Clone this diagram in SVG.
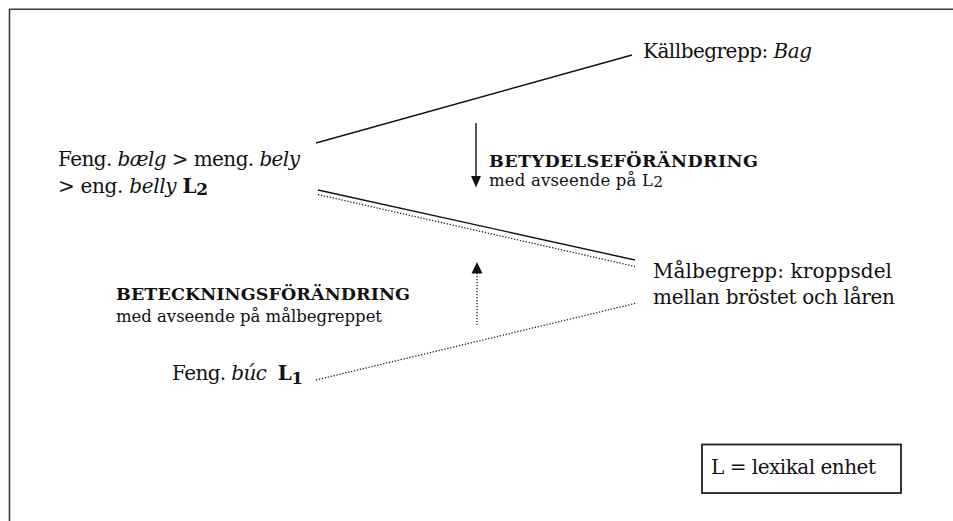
<svg xmlns="http://www.w3.org/2000/svg" width="953" height="521" viewBox="0 0 953 521">
  <style>
    .t { font-family: "DejaVu Serif", "Liberation Serif", serif; fill: #111; }
    .main { font-size: 20px; }
    .head { font-size: 17.5px; font-weight: bold; }
    .sub { font-size: 16.5px; }
    .it { font-style: italic; }
    .b { font-weight: bold; }
    .solid { stroke: #111; stroke-width: 1.4; fill: none; }
    .dotted { stroke: #222; stroke-width: 1.3; stroke-dasharray: 1.3 1.7; fill: none; }
    .head-fill { fill: #111; }
  </style>

  <rect width="953" height="521" fill="#fff"/>

  <!-- page frame (top and left edges) -->
  <path d="M9.5 521 V9.2 H953" fill="none" stroke="#3a3a3a" stroke-width="1.6"/>

  <!-- connectors -->
  <g id="connectors">
    <line class="solid" x1="316" y1="143" x2="632" y2="55"/>
    <line class="solid" x1="318" y1="190" x2="635" y2="260"/>
    <line class="dotted" x1="318" y1="194.5" x2="635" y2="266.5"/>
    <line class="dotted" x1="316" y1="380" x2="637" y2="303"/>
    <!-- meaning change: downward arrow -->
    <line class="solid" x1="476" y1="123" x2="476" y2="178"/>
    <polygon class="head-fill" points="471,176 481,176 476,187.5"/>
    <!-- naming change: dotted upward arrow -->
    <line class="dotted" x1="477" y1="273" x2="477" y2="325"/>
    <polygon class="head-fill" points="471.5,273.5 482.5,273.5 477,262"/>
  </g>

  <g id="node-source">
    <text class="t main" x="643" y="57.5" textLength="169">Källbegrepp: <tspan class="it">Bag</tspan></text>
  </g>

  <g id="node-word-l2">
    <text class="t main" x="58" y="166" textLength="242">Feng. <tspan class="it">bælg</tspan> &gt; meng. <tspan class="it">bely</tspan></text>
    <text class="t main" x="58" y="193" textLength="150">&gt; eng. <tspan class="it">belly</tspan> <tspan class="b">L</tspan><tspan class="b" font-size="17" dy="2">2</tspan></text>
  </g>

  <g id="node-target">
    <text class="t main" x="653" y="277.5" textLength="239">Målbegrepp: kroppsdel</text>
    <text class="t main" x="653" y="303.5" textLength="242">mellan bröstet och låren</text>
  </g>

  <g id="node-word-l1">
    <text class="t main" x="172" y="380" textLength="131">Feng. <tspan class="it">búc</tspan>&#160; <tspan class="b">L</tspan><tspan class="b" font-size="17" dy="4">1</tspan></text>
  </g>

  <g id="label-meaning-change">
    <text class="t head" x="489" y="167" textLength="269">BETYDELSEFÖRÄNDRING</text>
    <text class="t sub" x="489" y="186" textLength="174">med avseende på L<tspan font-size="15.5" dy="1">2</tspan></text>
  </g>

  <g id="label-naming-change">
    <text class="t head" x="116" y="300" textLength="294">BETECKNINGSFÖRÄNDRING</text>
    <text class="t sub" x="116" y="322" textLength="266">med avseende på målbegreppet</text>
  </g>

  <g id="legend">
    <rect x="702" y="444.5" width="199" height="48.5" fill="#fff" stroke="#222" stroke-width="1.8"/>
    <text class="t main" x="711" y="474" textLength="165">L = lexikal enhet</text>
  </g>
</svg>
